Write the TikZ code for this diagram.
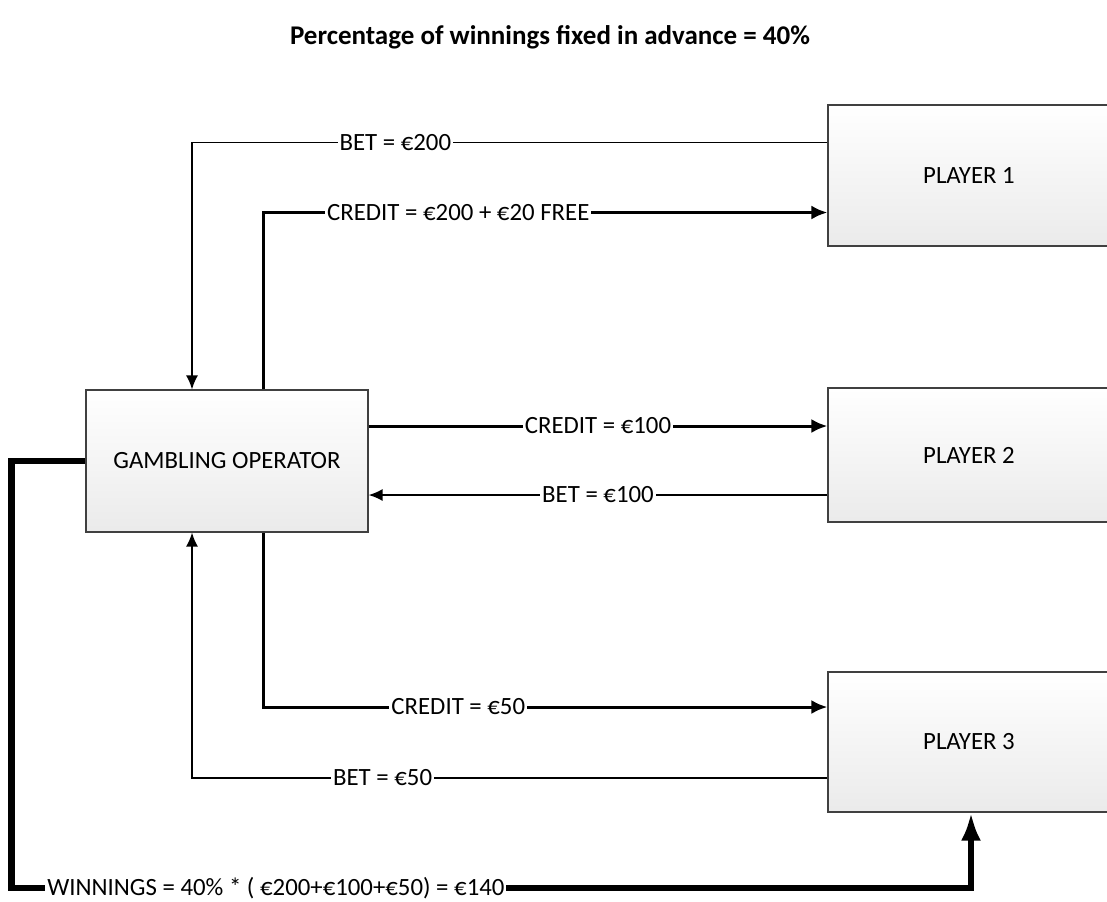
\documentclass[tikz,border=0pt]{standalone}
\usepackage{fontspec}
\setmainfont{Carlito}
\usetikzlibrary{%
	calc,%
	arrows.meta,%
	positioning
}
\definecolor{box-gray}{rgb}{0.92, 0.92, 0.92}

\begin{document}
\begin{tikzpicture}[x=0.5pt, y=-0.5pt,
		party/.style={draw=black!75, line width=0.6pt, top color=white, bottom color=box-gray, minimum width=141pt, inner sep=0pt, font=\fontsize{12.4}{14}\selectfont},
		bet/.style={draw, line width=0.8pt, -{Latex[length=7pt, width=6pt]}},
		credit/.style={draw, line width=1.5pt, -{Latex[length=8pt, width=7pt]}},
		winnings/.style={draw, line width=3.2pt, -{Latex[length=14pt, width=10pt]}},
		lbl/.style={fill=white, inner sep=1pt, font=\fontsize{12.4}{14}\selectfont}
	]
	\useasboundingbox (0,0) rectangle (1107,901);
	\clip (0,0) rectangle (1107,901);

	% Title
	\node (title) at (550,37) {\fontsize{13.5}{16}\selectfont\bfseries Percentage of winnings fixed in advance = 40\%};

	% Operator and players
	\node[party, minimum height=71pt] (op) at (227,461) {GAMBLING OPERATOR};
	\node[party, minimum height=70.5pt] (p1) at (969,175.5) {PLAYER 1};
	\node[party, minimum height=67pt] (p2) at (969,455) {PLAYER 2};
	\node[party, minimum height=70pt] (p3) at (969,742) {PLAYER 3};

	% Player 1
	\draw[bet] ($(p1.west)+(0,-33)$) -| node[lbl, pos=0.34] {BET = €200} ($(op.north)+(-35,0)$);
	\draw[credit] ($(op.north)+(36,0)$) |- node[lbl, pos=0.673] {CREDIT = €200 + €20 FREE} ($(p1.west)+(0,37)$);

	% Player 2
	\draw[credit] ($(op.east)+(0,-35)$) -- node[lbl] {CREDIT = €100} ($(p2.west)+(0,-29)$);
	\draw[bet] ($(p2.west)+(0,40)$) -- node[lbl] {BET = €100} ($(op.east)+(0,34)$);

	% Player 3
	\draw[credit] ($(op.south)+(36,0)$) |- node[lbl, pos=0.673] {CREDIT = €50} ($(p3.west)+(0,-35)$);
	\draw[bet] ($(p3.west)+(0,36)$) -| node[lbl, pos=0.35] {BET = €50} ($(op.south)+(-35,0)$);

	% Winnings back to player 3
	\coordinate (wc) at (971,888);
	\draw[winnings] (op.west) -- ++(-74,0) |- node[lbl, pos=0.516, anchor=west] {WINNINGS = 40\% * ( €200+€100+€50) = €140} (wc) -- (wc |- p3.south);

\end{tikzpicture}
\end{document}
